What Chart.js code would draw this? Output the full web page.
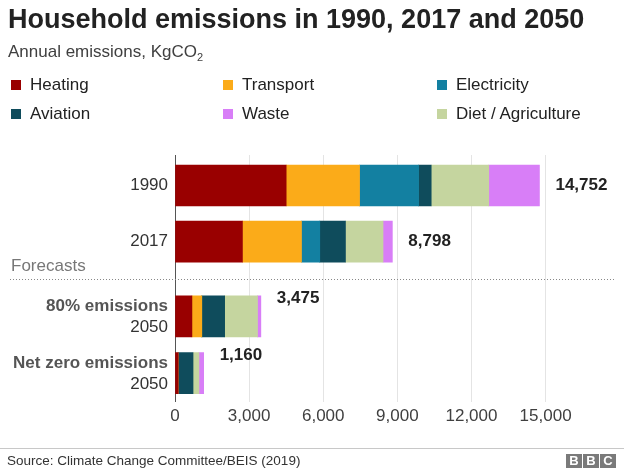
<!DOCTYPE html>
<html>
<head>
<meta charset="utf-8">
<script src="https://cdn.jsdelivr.net/npm/chart.js@4"></script>
<style>
  body { margin: 0; background: #fff; }
  #wrap { position: relative; width: 624px; height: 473px; font-family: "Liberation Sans", Arial, sans-serif; overflow: hidden; }
  #grafico { position: absolute; left: 0; top: 0; }
  .titulo { position: absolute; left: 8px; top: 6px; font-size: 27px; line-height: 27px; font-weight: bold; color: #222; white-space: nowrap; }
  .sub { position: absolute; left: 8px; top: 43px; font-size: 17px; line-height: 17px; color: #404040; white-space: nowrap; }
  .sub sub { font-size: 11px; vertical-align: -4px; line-height: 0; }
  .ley { position: absolute; font-size: 17px; line-height: 17px; color: #222; white-space: nowrap; }
  .ley i { position: absolute; left: -19px; top: 4px; width: 10px; height: 10px; }
  .pie { position: absolute; left: 0; top: 448px; width: 624px; border-top: 1px solid #c8c8c8; }
  .fuente { position: absolute; left: 7px; top: 453px; font-size: 13.5px; line-height: 16px; color: #333; white-space: nowrap; }
  .bbc { position: absolute; top: 454px; width: 16px; height: 14px; background: #7a7a7a; color: #fff; font-weight: bold; font-size: 13px; line-height: 14px; text-align: center; }
</style>
</head>
<body>
<div id="wrap">
  <canvas id="grafico" width="624" height="473"></canvas>
  <div class="titulo">Household emissions in 1990, 2017 and 2050</div>
  <div class="sub">Annual emissions, KgCO<sub>2</sub></div>
  <div id="leyenda"></div>
  <div class="pie"></div>
  <div class="fuente">Source: Climate Change Committee/BEIS (2019)</div>
  <div class="bbc" style="left:566px">B</div>
  <div class="bbc" style="left:583px">B</div>
  <div class="bbc" style="left:600px">C</div>
</div>
<script>
const categorias = [["1990"], ["2017"], ["80% emissions", "2050"], ["Net zero emissions", "2050"]];
const heating = [4500, 2730, 685, 130];
const transport = [2970, 2390, 400, 0];
const electricity = [2390, 740, 0, 0];
const aviation = [510, 1040, 925, 600];
const diet = [2330, 1520, 1330, 240];
const waste = [2052, 378, 135, 190];
const totales = [14752, 8798, 3475, 1160];
const ticksX = [0, 3000, 6000, 9000, 12000, 15000];

// posiciones de las filas en el eje y (hueco antes de las previsiones)
const filas = [0, 1, 2.33, 3.34];

const series = [
  { label: "Heating", data: heating, color: "#990000" },
  { label: "Transport", data: transport, color: "#fbab19" },
  { label: "Electricity", data: electricity, color: "#1380a1" },
  { label: "Aviation", data: aviation, color: "#0f4c5c" },
  { label: "Diet / Agriculture", data: diet, color: "#c5d59f" },
  { label: "Waste", data: waste, color: "#d87ef7" }
];

// leyenda en tres columnas
const ordenLeyenda = ["Heating", "Transport", "Electricity", "Aviation", "Waste", "Diet / Agriculture"];
const ley = document.getElementById("leyenda");
ordenLeyenda.forEach((nombre, i) => {
  const s = series.find(d => d.label === nombre);
  const x = [30, 242, 456][i % 3];
  const y = [76, 105][Math.floor(i / 3)];
  ley.innerHTML += `<div class="ley" style="left:${x}px;top:${y}px"><i style="background:${s.color}"></i>${nombre}</div>`;
});

const fuente = '"Liberation Sans", Arial, sans-serif';

const etiquetas = {
  id: "etiquetas",
  afterDraw(chart) {
    const c = chart.ctx;
    const xs = chart.scales.x;
    const ys = chart.scales.y;
    c.save();
    c.textBaseline = "middle";
    categorias.forEach((lineas, i) => {
      const y = ys.getPixelForValue(filas[i]);
      c.textAlign = "right";
      if (lineas.length === 1) {
        c.font = "17px " + fuente;
        c.fillStyle = "#333";
        c.fillText(lineas[0], 168, y);
      } else {
        c.font = "bold 17px " + fuente;
        c.fillStyle = "#555";
        c.fillText(lineas[0], 168, y - 10);
        c.font = "17px " + fuente;
        c.fillStyle = "#333";
        c.fillText(lineas[1], 168, y + 11);
      }
      c.textAlign = "left";
      c.font = "bold 17px " + fuente;
      c.fillStyle = "#222";
      const ty = i < 2 ? y : y - 18;
      c.fillText(totales[i].toLocaleString("en-US"), xs.getPixelForValue(totales[i]) + 16, ty);
    });
    c.font = "17px " + fuente;
    c.fillStyle = "#777";
    c.fillText("Forecasts", 11, 266);
    c.strokeStyle = "#888";
    c.lineWidth = 1;
    c.setLineDash([1, 2]);
    c.beginPath();
    c.moveTo(10, 279.5);
    c.lineTo(614, 279.5);
    c.stroke();
    c.restore();
  }
};

new Chart(document.getElementById("grafico"), {
  type: "bar",
  data: {
    datasets: series.map(s => ({
      label: s.label,
      data: s.data.map((v, i) => ({ x: v, y: filas[i] })),
      backgroundColor: s.color,
      stack: "total",
      barThickness: 41,
      borderWidth: 0
    }))
  },
  options: {
    indexAxis: "y",
    responsive: false,
    animation: false,
    layout: { padding: { left: 175, right: 29, top: 155, bottom: 41 } },
    plugins: { legend: { display: false }, tooltip: { enabled: false } },
    scales: {
      x: {
        type: "linear",
        stacked: true,
        min: 0,
        max: 17000,
        afterBuildTicks: s => { s.ticks = ticksX.map(v => ({ value: v })); },
        ticks: {
          padding: 5,
          color: "#404040",
          font: { size: 17, family: fuente },
          callback: v => v.toLocaleString("en-US")
        },
        grid: {
          drawTicks: false,
          color: ctx => ctx.tick && ctx.tick.value === 0 ? "#555" : "#e4e4e4"
        },
        border: { display: false }
      },
      y: {
        type: "linear",
        display: false,
        offset: false,
        reverse: true,
        min: -0.542,
        max: 3.846
      }
    }
  },
  plugins: [etiquetas]
});
</script>
</body>
</html>
